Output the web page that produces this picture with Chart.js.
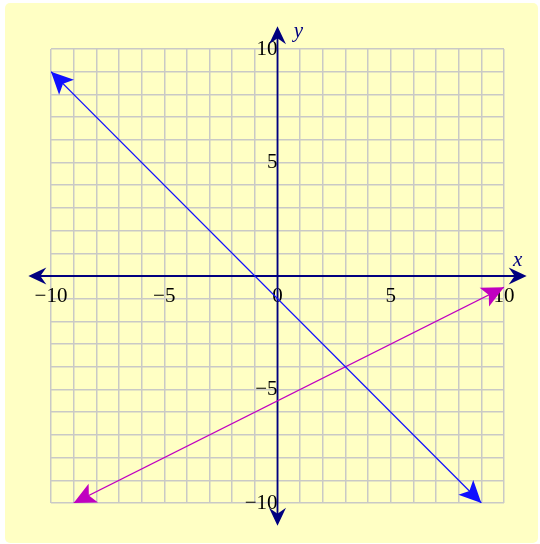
<!DOCTYPE html>
<html>
<head>
<meta charset="utf-8">
<script src="https://cdn.jsdelivr.net/npm/chart.js@4/dist/chart.umd.min.js"></script>
<style>
  html, body { margin: 0; padding: 0; background: #ffffff; }
  #wrap { width: 540px; height: 544px; position: relative; }
</style>
</head>
<body>
<div id="wrap"><canvas id="c"></canvas></div>
<script>
// ---- data ----
const axisRange = [-10, 10];
const tickLabelValues = [-10, -5, 0, 5, 10];
const blueX = [-10, 9];
const blueY = [9, -10];
const magentaX = [-9, 10];
const magentaY = [-10, -0.5];
const axisNames = ['x', 'y'];

function toPoints(xs, ys) { return xs.map((x, i) => ({ x: x, y: ys[i] })); }
function fmt(v) { return v < 0 ? '\u2212' + Math.abs(v) : String(v); }

const NAVY = '#00007f';
const SERIF = "'Liberation Serif', 'DejaVu Serif', serif";

function arrowHead(ctx, tx, ty, fx, fy, len, half, notch, color) {
  const dx = fx - tx, dy = fy - ty;
  const d = Math.hypot(dx, dy);
  const ux = dx / d, uy = dy / d;
  const px = -uy, py = ux;
  ctx.save();
  ctx.fillStyle = color;
  ctx.beginPath();
  ctx.moveTo(tx, ty);
  ctx.lineTo(tx + ux * len + px * half, ty + uy * len + py * half);
  ctx.lineTo(tx + ux * notch, ty + uy * notch);
  ctx.lineTo(tx + ux * len - px * half, ty + uy * len - py * half);
  ctx.closePath();
  ctx.fill();
  ctx.restore();
}

const bgPlugin = {
  id: 'bg',
  beforeDraw(chart) {
    const ctx = chart.ctx;
    ctx.save();
    ctx.fillStyle = '#ffffff';
    ctx.fillRect(0, 0, chart.width, chart.height);
    ctx.fillStyle = '#ffffc4';
    ctx.beginPath();
    if (ctx.roundRect) ctx.roundRect(5, 3, 533, 540, 5); else ctx.rect(5, 3, 533, 540);
    ctx.fill();
    ctx.restore();
  }
};

const axesPlugin = {
  id: 'axesArrows',
  beforeDatasetsDraw(chart) {
    const ctx = chart.ctx;
    const xs = chart.scales.x, ys = chart.scales.y;
    const x0 = xs.getPixelForValue(0), y0 = ys.getPixelForValue(0);
    const ext = 1.0;
    const xl = xs.getPixelForValue(axisRange[0] - ext), xr = xs.getPixelForValue(axisRange[1] + ext);
    const yt = ys.getPixelForValue(axisRange[1] + ext), yb = ys.getPixelForValue(axisRange[0] - ext);
    ctx.save();
    ctx.strokeStyle = NAVY;
    ctx.lineWidth = 1.8;
    ctx.beginPath();
    ctx.moveTo(xl + 8, y0); ctx.lineTo(xr - 8, y0);
    ctx.moveTo(x0, yt + 8); ctx.lineTo(x0, yb - 8);
    ctx.stroke();
    ctx.restore();
    arrowHead(ctx, xl, y0, x0, y0, 18, 8.5, 12, NAVY);
    arrowHead(ctx, xr, y0, x0, y0, 18, 8.5, 12, NAVY);
    arrowHead(ctx, x0, yt, x0, y0, 18, 8.5, 12, NAVY);
    arrowHead(ctx, x0, yb, x0, y0, 18, 8.5, 12, NAVY);
    ctx.save();
    ctx.fillStyle = NAVY;
    ctx.font = 'italic 21px ' + SERIF;
    ctx.textAlign = 'center';
    ctx.textBaseline = 'alphabetic';
    ctx.fillText(axisNames[0], xr - 9, y0 - 10);
    ctx.fillText(axisNames[1], x0 + 21, yt + 11);
    ctx.restore();
  },
  afterDatasetsDraw(chart) {
    const ctx = chart.ctx;
    chart.data.datasets.forEach((ds, i) => {
      const meta = chart.getDatasetMeta(i);
      const pts = meta.data;
      const a = pts[0], b = pts[pts.length - 1];
      arrowHead(ctx, a.x, a.y, b.x, b.y, 22, 10.5, 17, ds.borderColor);
      arrowHead(ctx, b.x, b.y, a.x, a.y, 22, 10.5, 17, ds.borderColor);
    });
  }
};

new Chart(document.getElementById('c'), {
  type: 'scatter',
  data: {
    datasets: [
      { data: toPoints(blueX, blueY), showLine: true, borderColor: '#1010ff', backgroundColor: '#1010ff', borderWidth: 1.3, pointRadius: 0, fill: false },
      { data: toPoints(magentaX, magentaY), showLine: true, borderColor: '#c000c0', backgroundColor: '#c000c0', borderWidth: 1.3, pointRadius: 0, fill: false }
    ]
  },
  options: {
    responsive: true,
    maintainAspectRatio: false,
    animation: false,
    layout: { padding: { left: 51, right: 36, top: 49, bottom: 41 } },
    plugins: { legend: { display: false }, tooltip: { enabled: false } },
    scales: {
      x: {
        type: 'linear', min: axisRange[0], max: axisRange[1],
        position: { y: 0 },
        border: { display: false },
        grid: { color: '#c9c9c6', lineWidth: 1.5, drawTicks: false },
        ticks: {
          stepSize: 1, autoSkip: false, maxRotation: 0, padding: 8,
          color: '#000000', font: { family: SERIF, size: 21 },
          callback: (v) => tickLabelValues.includes(v) ? fmt(v) : ''
        }
      },
      y: {
        type: 'linear', min: axisRange[0], max: axisRange[1],
        position: { x: 0 },
        border: { display: false },
        grid: { color: '#c9c9c6', lineWidth: 1.5, drawTicks: false },
        ticks: {
          stepSize: 1, autoSkip: false, padding: 9,
          color: '#000000', font: { family: SERIF, size: 21 },
          callback: (v) => (tickLabelValues.includes(v) && v !== 0) ? fmt(v) : ''
        }
      }
    }
  },
  plugins: [bgPlugin, axesPlugin]
});
</script>
</body>
</html>
